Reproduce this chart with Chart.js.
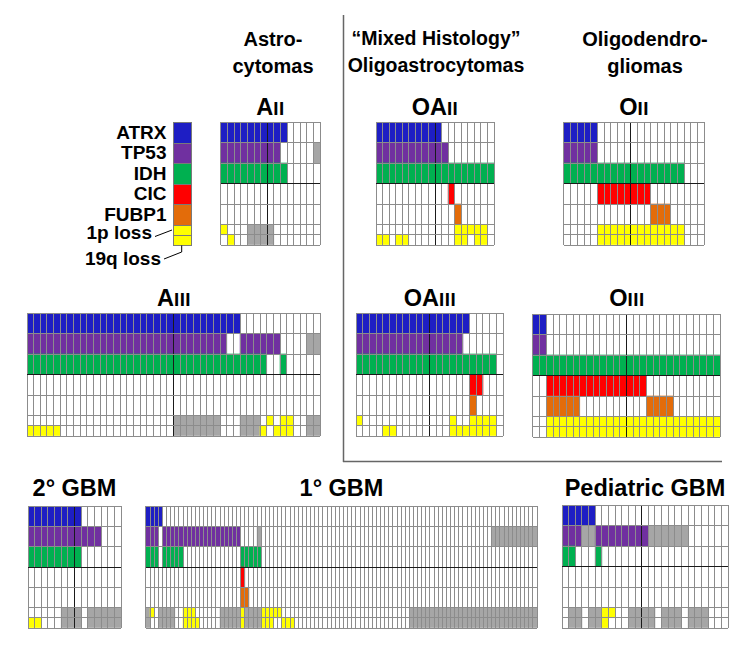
<!DOCTYPE html>
<html><head><meta charset="utf-8">
<script src="https://cdn.jsdelivr.net/npm/chart.js@4.4.1/dist/chart.umd.min.js"></script>
<style>
html,body{margin:0;padding:0;background:#fff}
body{width:756px;height:657px;overflow:hidden;position:relative;font-family:"Liberation Sans",Arial,sans-serif;font-weight:bold;color:#000}
.t{position:absolute;white-space:nowrap;line-height:1}
.c{transform:translateX(-50%)}
.r{transform:translateX(-100%)}
small{font-size:0.8em;letter-spacing:0.5px}
canvas{position:absolute}
.sw{position:absolute;left:173px;width:19px;border:1px solid #7a7a7a;box-sizing:border-box}
</style></head>
<body>
<script>
// ---------- data ----------
// row order: ATRX, TP53, IDH, CIC, FUBP1, 1p loss, 19q loss
// codes: 1 = altered, 0 = not altered, 2 = not determined
const ROW_NAMES = ["ATRX","TP53","IDH","CIC","FUBP1","1p loss","19q loss"];
const ROW_COLORS = ["#1e1ec4","#7030a0","#00b050","#ff0000","#e36c0a","#ffff00","#ffff00"];
const ROW_SIZE = [1,1,1,1,1,0.5,0.5];
const ND_COLOR = "#a6a6a6";

const AII = [
  "111111111100000",
  "111111111000002",
  "111111111100000",
  "000000000000000",
  "000000000000000",
  "100022220000000",
  "010022220000000"];
const OAII = [
  "111111111100000000",
  "111111111110000000",
  "111111111111111111",
  "000000000001000000",
  "000000000000100000",
  "000000000000111110",
  "110110000000110110"];
const OII = [
  "111110000000000000000",
  "111110000000000000000",
  "111111111111111111000",
  "000001111111100000000",
  "000000000000011100000",
  "000001111111111111000",
  "000001111111111111000"];
const AIII = [
  "11111111111111111111111111111111000000000000",
  "11111111111111111111111111111100111111000022",
  "11111111111111111111111111111111111100100000",
  "00000000000000000000000000000000000000000000",
  "00000000000000000000000000000000000000000000",
  "00000000000000000000002222222000222010110022",
  "11111000000000000000002222222000222101110022"];
const OAIII = [
  "1111111111111111100000",
  "1111111111111111000000",
  "1111111111111111111110",
  "0000000000000000011000",
  "0000000000000000010000",
  "1000000000000010011110",
  "0000110000000011111110"];
const OIII = [
  "1100000000000000000000000000",
  "1100000000000000000000000000",
  "1111111111111111111111111111",
  "0011111111111111100000000000",
  "0011111000000000011110000000",
  "0011111111111111111111111111",
  "0011111111111111111111111111"];
const GBM2 = [
  "11111111000000",
  "11111111111000",
  "11111111000000",
  "00000000000000",
  "00000000000000",
  "00000222022222",
  "11000222022222"];
const GBM1 = [
  "11110000000000000000000000000000000000000000000000000000000000000000000000000000000000000000000",
  "11101111111111111111111000020000000000000000000000000000000000000000000000000000000022222222222",
  "11101111100000000000000111110000000000000000000000000000000000000000000000000000000000000000000",
  "00000000000000000000000100000000000000000000000000000000000000000000000000000000000000000000000",
  "00000000000000000000000110000000000000000000000000000000000000000000000000000000000000000000000",
  "21022220011100000022222122221111100000000000000000000000000000002222222222222222222222222222222",
  "20022220011110000022222122221110011100000000000000000000000000002222222222222222222222222222222"];
const PED = [
  "1111100000000000000000000",
  "1112211111111222222000000",
  "1100010000000000000000000",
  "0000000000000000000000000",
  "0000000000000000000000000",
  "0220221100222202220222000",
  "0220221000222202220222000"];

// ---------- layout (positions only) ----------
const LAYOUT = [
  {rows:AII,   box:[221,122,99,123],  mid:true},
  {rows:OAII,  box:[376,122,118,123], mid:true},
  {rows:OII,   box:[564,122,140,123], mid:true},
  {rows:AIII,  box:[27,313,293,123],  mid:true},
  {rows:OAIII, box:[356,313,147,123], mid:true},
  {rows:OIII,  box:[533,314,187,123], mid:true},
  {rows:GBM2,  box:[28,506,93,122],   mid:true},
  {rows:GBM1,  box:[146,506,391,122], mid:false},
  {rows:PED,   box:[562,505,166,123], mid:true}
];

function panel(rows, box, showMid){
  const [L,T,W,H] = box;
  const cv = document.createElement('canvas');
  cv.width = W+2; cv.height = H+2;
  cv.style.left = (L-1)+'px'; cv.style.top = (T-1)+'px';
  document.body.appendChild(cv);
  const n = rows[0].length;
  const mid = showMid ? Math.floor(n/2) : -1;
  const labels = Array.from({length:n},(_,i)=>String(i+1));
  const datasets = [];
  for (let r = rows.length-1; r >= 0; r--) {
    const codes = rows[r].split('');
    datasets.push({
      label: ROW_NAMES[r],
      data: codes.map(()=>ROW_SIZE[r]),
      backgroundColor: codes.map(c => c==='1' ? ROW_COLORS[r] : c==='2' ? ND_COLOR : 'rgba(255,255,255,0)'),
      borderWidth:0, barPercentage:1, categoryPercentage:1
    });
  }
  new Chart(cv, {
    type:'bar',
    data:{labels, datasets},
    options:{
      responsive:false, animation:false, events:[],
      layout:{padding:1},
      plugins:{legend:{display:false}, tooltip:{enabled:false}},
      scales:{
        x:{stacked:true, offset:true,
           ticks:{display:false, autoSkip:false},
           grid:{offset:true, z:1, drawTicks:false, lineWidth:1,
                 color:ctx => ctx.index===mid ? '#1a1a1a' : '#8c8c8c'},
           border:{display:false}},
        y:{stacked:true, min:0, max:6,
           ticks:{display:false},
           afterBuildTicks:s => { s.ticks = [0,0.5,1,2,3,4,5,6].map(v=>({value:v})); },
           grid:{z:1, drawTicks:false, lineWidth:1,
                 color:ctx => (ctx.tick && ctx.tick.value===3) ? '#1a1a1a' : '#8c8c8c'},
           border:{display:false}}
      }
    }
  });
}
LAYOUT.forEach(p => panel(p.rows, p.box, p.mid));

// ---------- text ----------
function txt(html, x, base, size, cls){
  const d = document.createElement('div');
  d.className = 't ' + (cls||'c');
  d.style.fontSize = size+'px';
  d.style.left = x+'px';
  d.style.top = (base - 0.8465*size)+'px';
  d.innerHTML = html;
  document.body.appendChild(d);
}
txt("Astro-",273,46,20); txt("cytomas",273,73,20);
txt("“Mixed Histology”",436,46,19.5); txt("Oligoastrocytomas",436,73,19.5);
txt("Oligodendro-",645,46,20); txt("gliomas",645,73,20);
txt("A<small>II</small>",270.5,116,23.5);
txt("OA<small>II</small>",435,116,23.5);
txt("O<small>II</small>",634,116,23.5);
txt("A<small>III</small>",174,306.5,23.5);
txt("OA<small>III</small>",430,306.5,23.5);
txt("O<small>III</small>",627,306.5,23.5);
txt("2° GBM",74.5,497,23.5);
txt("1° GBM",341.5,497,23.5);
txt("Pediatric GBM",645,497,23.5);

// legend labels
const LEG_BASE = [138.8,159.3,179.8,200.3,220.8];
for (let i=0;i<5;i++) txt(ROW_NAMES[i],166.5,LEG_BASE[i],19,'r');
txt("1p loss",152,239,19,'r');
txt("19q loss",161,265,19,'r');

// legend swatches
const SW_TOP = [122,142.5,163,183.5,204,224.5,234.75];
const SW_H = [20.5,20.5,20.5,20.5,20.5,10.25,10.25];
for (let i=0;i<7;i++){
  const d = document.createElement('div');
  d.className='sw';
  d.style.top = SW_TOP[i]+'px';
  d.style.height = (SW_H[i]+1)+'px';
  d.style.background = ROW_COLORS[i];
  document.body.appendChild(d);
}
</script>
<svg width="756" height="657" style="position:absolute;left:0;top:0;pointer-events:none">
  <line x1="343.5" y1="15" x2="343.5" y2="462" stroke="#666" stroke-width="1.5"/>
  <line x1="343" y1="461.5" x2="722" y2="461.5" stroke="#666" stroke-width="1.5"/>
  <polyline points="155,236.5 172,230" fill="none" stroke="#000" stroke-width="1"/>
  <polyline points="164,259 181.7,252 181.7,245.5" fill="none" stroke="#000" stroke-width="1"/>
</svg>
</body></html>
